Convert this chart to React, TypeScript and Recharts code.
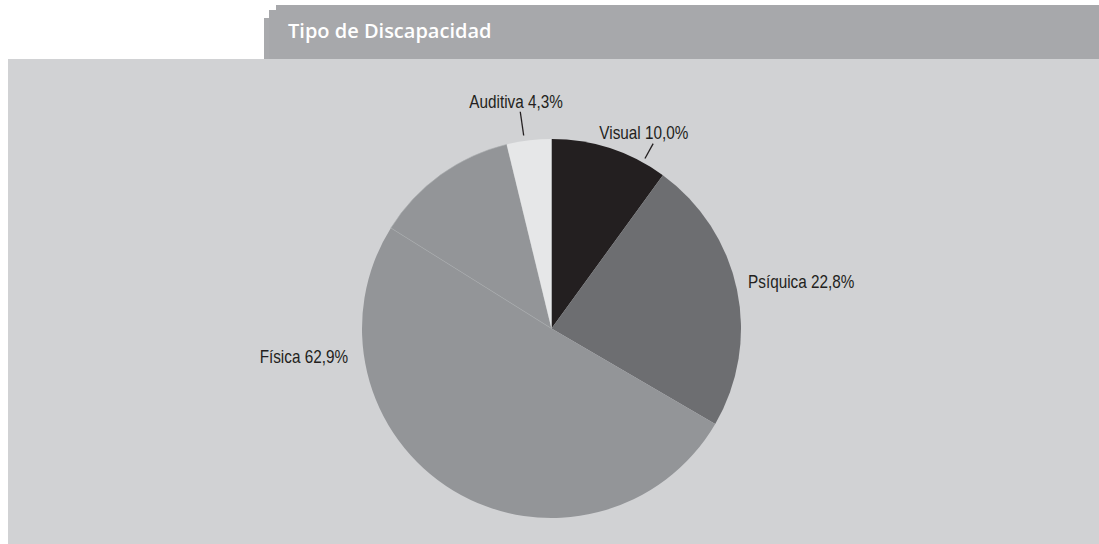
import React from "react";
import { PieChart, Pie, Cell } from "recharts";

// ---- data ----
const categories = ["Visual", "Psíquica", "Física", "Física", "Auditiva"];
const shares = [10.0, 23.4, 50.5, 12.3, 3.8];
const labelTexts = ["Visual 10,0%", "Psíquica 22,8%", "Física 62,9%", "", "Auditiva 4,3%"];
const title = "Tipo de Discapacidad";

// ---- styles ----
const sliceColors = ["#231f20", "#6d6e71", "#939598", "#939598", "#e6e7e8"];
const sliceStrokes = ["none", "none", "none", "#aaacaf", "none"];

type Placement = {
  angle: number;
  r: number;
  anchor: "start" | "middle" | "end";
  lead?: { angle: number; r1: number; r2: number };
} | null;

const labelPlacement: Placement[] = [
  { angle: 64.7, r: 216, anchor: "middle", lead: { angle: 61.2, r1: 194, r2: 211 } },
  { angle: 13.3, r: 202, anchor: "start" },
  { angle: 188, r: 205.5, anchor: "end" },
  null,
  { angle: 98.9, r: 229, anchor: "middle", lead: { angle: 98.2, r1: 195, r2: 219 } },
];

const data = categories.map((name, i) => ({ name, value: shares[i], label: labelTexts[i] }));

const RAD = Math.PI / 180;
const LABEL_FONT = "'Liberation Sans', Arial, sans-serif";
const SQUEEZE = 0.85;

const renderLabel = (props: any) => {
  const { cx, cy, index } = props;
  const p = labelPlacement[index];
  const text = labelTexts[index];
  if (!p || !text) return null;
  const x = cx + p.r * Math.cos(p.angle * RAD);
  const y = cy - p.r * Math.sin(p.angle * RAD);
  let line = null;
  if (p.lead) {
    const a = p.lead.angle * RAD;
    line = (
      <line
        x1={cx + p.lead.r1 * Math.cos(a)}
        y1={cy - p.lead.r1 * Math.sin(a)}
        x2={cx + p.lead.r2 * Math.cos(a)}
        y2={cy - p.lead.r2 * Math.sin(a)}
        stroke="#231f20"
        strokeWidth={1.3}
      />
    );
  }
  return (
    <g key={`lbl-${index}`}>
      {line}
      <g transform={`translate(${x},${y}) scale(${SQUEEZE},1)`}>
        <text
          x={0}
          y={0}
          textAnchor={p.anchor}
          dominantBaseline="central"
          fill="#231f20"
          fontFamily={LABEL_FONT}
          fontSize={18}
        >
          {text}
        </text>
      </g>
    </g>
  );
};

export default function App() {
  return (
    <div
      style={{
        position: "absolute",
        left: 0,
        top: 0,
        width: 1099,
        height: 544,
        background: "#ffffff",
        overflow: "hidden",
      }}
    >
      {/* header tab */}
      <div style={{ position: "absolute", left: 276, top: 5, width: 823, height: 54, background: "#a7a8ab" }} />
      <div style={{ position: "absolute", left: 269, top: 10, width: 7, height: 49, background: "#a7a8ab" }} />
      <div style={{ position: "absolute", left: 264, top: 18, width: 5, height: 41, background: "#a9aaad" }} />
      <div
        style={{
          position: "absolute",
          left: 288,
          top: 17,
          color: "#ffffff",
          fontFamily: "'Open Sans', sans-serif",
          fontWeight: 600,
          fontSize: 20,
          lineHeight: "28px",
          whiteSpace: "nowrap",
        }}
      >
        {title}
      </div>
      {/* panel */}
      <div style={{ position: "absolute", left: 8, top: 59, width: 1091, height: 485, background: "#d1d2d4" }} />
      <div style={{ position: "absolute", left: 0, top: 0 }}>
        <PieChart width={1099} height={544} margin={{ top: 0, right: 0, bottom: 0, left: 0 }}>
          <Pie
            data={data}
            dataKey="value"
            nameKey="name"
            cx={551.5}
            cy={328.5}
            innerRadius={0}
            outerRadius={189.5}
            startAngle={90}
            endAngle={-270}
            isAnimationActive={false}
            label={renderLabel}
            labelLine={false}
          >
            {data.map((d, i) => (
              <Cell key={i} fill={sliceColors[i]} stroke={sliceStrokes[i]} strokeWidth={0.6} />
            ))}
          </Pie>
        </PieChart>
      </div>
    </div>
  );
}
